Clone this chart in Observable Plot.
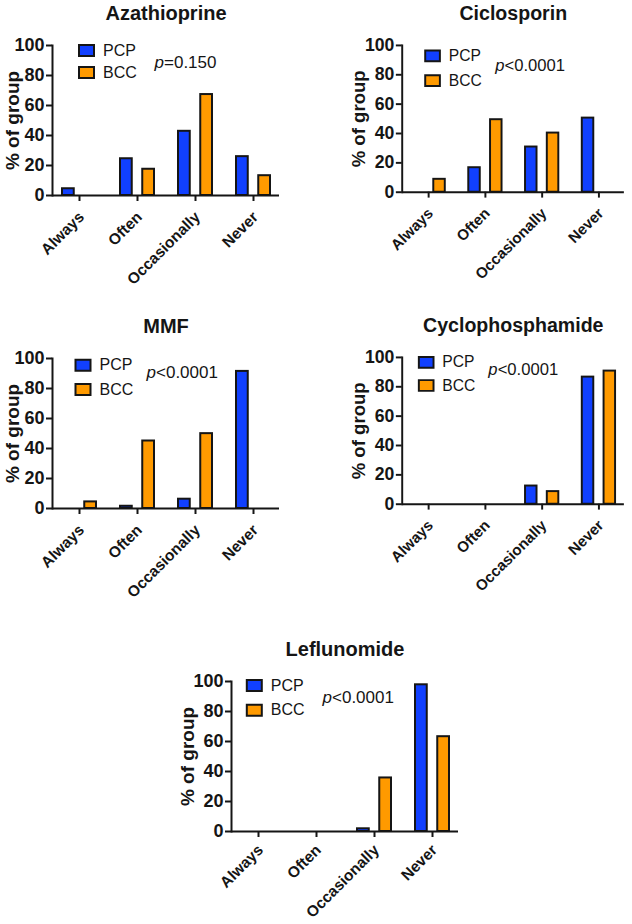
<!DOCTYPE html>
<html>
<head>
<meta charset="utf-8">
<script src="https://cdn.jsdelivr.net/npm/d3@7"></script>
<script src="https://cdn.jsdelivr.net/npm/@observablehq/plot@0.6"></script>
<style>
  html, body { margin: 0; padding: 0; background: #fff; }
  body { width: 632px; height: 924px; position: relative; overflow: hidden; font-family: "Liberation Sans", Arial, sans-serif; }
  .panel { position: absolute; }
</style>
</head>
<body>
<script>
// ---- data ----
const categories = ["Always", "Often", "Occasionally", "Never"];
const groups = ["PCP", "BCC"];
const drugs = ["Azathioprine", "Ciclosporin", "MMF", "Cyclophosphamide", "Leflunomide"];
const pValues = ["=0.150", "<0.0001", "<0.0001", "<0.0001", "<0.0001"];
const yTicks = [0, 20, 40, 60, 80, 100];
const yLabel = "% of group";

const pcpAzathioprine = [4.5, 24.5, 42.8, 25.9];
const bccAzathioprine = [0, 17.5, 67.3, 13.2];
const pcpCiclosporin = [0, 16.7, 30.8, 50.5];
const bccCiclosporin = [8.8, 49.4, 40.3, 0];
const pcpMMF = [0, 1.5, 6.2, 91.4];
const bccMMF = [4.4, 45.0, 49.9, 0];
const pcpCyclophosphamide = [0, 0, 12.4, 86.6];
const bccCyclophosphamide = [0, 0, 8.6, 90.7];
const pcpLeflunomide = [0, 0, 1.8, 97.8];
const bccLeflunomide = [0, 0, 35.7, 63.2];

// ---- styles / layout ----
const PCP_COLOR = "#1140ff";
const BCC_COLOR = "#ff9a00";
const INK = "#151515";
const FONT = "'Liberation Sans', Arial, sans-serif";

const ML = 60, MR = 8, MT = 50, MB = 100, PH = 150, AXW = 227;
const STEP = 58.5, FIRST = 26;

const layout = [
  {pcp: pcpAzathioprine, bcc: bccAzathioprine, ax: 52, top: 45, labX: -40, legX: 34, legY: [5, 27], pX: 102, pY: 16.7, pad: 19},
  {pcp: pcpCiclosporin, bcc: bccCiclosporin, ax: 403.3, top: 46, labX: -44, legX: 31, legY: [10.7, 36], pX: 95, pY: 20.7, pad: 19},
  {pcp: pcpMMF, bcc: bccMMF, ax: 52.3, top: 357.7, labX: -40, legX: 30.5, legY: [6.8, 31], pX: 94, pY: 14, pad: 19},
  {pcp: pcpCyclophosphamide, bcc: bccCyclophosphamide, ax: 403.3, top: 358, labX: -44, legX: 24.5, legY: [5, 28.7], pX: 88, pY: 13, pad: 19},
  {pcp: pcpLeflunomide, bcc: bccLeflunomide, ax: 231, top: 681, labX: -44, legX: 22.8, legY: [4, 28.7], pX: 91, pY: 15.7, pad: 16}
];

const swatch = { draw(ctx) { ctx.rect(-7.5, -5.5, 15, 11); } };

layout.forEach((L, i) => {
  const rows = [];
  categories.forEach((c, j) => {
    rows.push({category: c, group: groups[0], value: L.pcp[j]});
    rows.push({category: c, group: groups[1], value: L.bcc[j]});
  });
  const pcpRows = rows.filter(d => d.group === "PCP" && d.value > 0);
  const bccRows = rows.filter(d => d.group === "BCC" && d.value > 0);
  const x0 = ML + FIRST - STEP / 2;

  const chart = Plot.plot({
    width: ML + AXW + MR,
    height: MT + PH + MB,
    marginLeft: ML, marginRight: MR, marginTop: MT, marginBottom: MB,
    style: {fontFamily: FONT, color: INK, background: "transparent", overflow: "visible"},
    x: {domain: categories, range: [x0, x0 + STEP * 4], padding: 0, axis: null},
    y: {domain: [0, 100], axis: null},
    marks: [
      Plot.barY(pcpRows, {x: "category", y: "value", fill: PCP_COLOR, stroke: INK, strokeWidth: 2, insetLeft: 12, insetRight: 34.25}),
      Plot.barY(bccRows, {x: "category", y: "value", fill: BCC_COLOR, stroke: INK, strokeWidth: 2, insetLeft: 34.25, insetRight: 12}),
      Plot.ruleY([0], {stroke: INK, strokeWidth: 2}),
      Plot.frame({anchor: "left", stroke: INK, strokeWidth: 2}),
      Plot.axisY({ticks: yTicks, tickSize: 6, tickPadding: 2, fontSize: 18, fontWeight: "bold", label: null, stroke: INK, strokeWidth: 2}),
      Plot.axisX({tickSize: 6, tickFormat: () => "", label: null, stroke: INK, strokeWidth: 2}),
      Plot.axisX({tickSize: 0, tickPadding: L.pad, tickRotate: -45, dx: 2, fontSize: 15.5, fontWeight: "bold", label: null, fill: INK}),
      Plot.text([yLabel], {text: d => d, frameAnchor: "left", rotate: -90, dx: L.labX, textAnchor: "middle", lineAnchor: "middle", fontSize: 19, fontWeight: "bold", fill: INK}),
      Plot.text([drugs[i]], {text: d => d, frameAnchor: "top", dy: -32, lineAnchor: "middle", fontSize: 20, fontWeight: "bold", fill: INK}),
      Plot.dot([groups[0]], {frameAnchor: "top-left", dx: L.legX, dy: L.legY[0], symbol: swatch, fill: PCP_COLOR, stroke: INK, strokeWidth: 2}),
      Plot.dot([groups[1]], {frameAnchor: "top-left", dx: L.legX, dy: L.legY[1], symbol: swatch, fill: BCC_COLOR, stroke: INK, strokeWidth: 2}),
      Plot.text([groups[0]], {text: d => d, frameAnchor: "top-left", dx: L.legX + 16.5, dy: L.legY[0], textAnchor: "start", lineAnchor: "middle", fontSize: 16, fill: INK}),
      Plot.text([groups[1]], {text: d => d, frameAnchor: "top-left", dx: L.legX + 16.5, dy: L.legY[1], textAnchor: "start", lineAnchor: "middle", fontSize: 16, fill: INK}),
      Plot.text(["p"], {text: d => d, frameAnchor: "top-left", dx: L.pX, dy: L.pY, textAnchor: "start", lineAnchor: "middle", fontSize: 17, fontStyle: "italic", fill: INK}),
      Plot.text([pValues[i]], {text: d => d, frameAnchor: "top-left", dx: L.pX + 9.5, dy: L.pY, textAnchor: "start", lineAnchor: "middle", fontSize: 17, fill: INK})
    ]
  });
  const div = document.createElement("div");
  div.className = "panel";
  div.style.left = (L.ax - ML) + "px";
  div.style.top = (L.top - MT) + "px";
  div.appendChild(chart);
  document.body.appendChild(div);
});
</script>
</body>
</html>
